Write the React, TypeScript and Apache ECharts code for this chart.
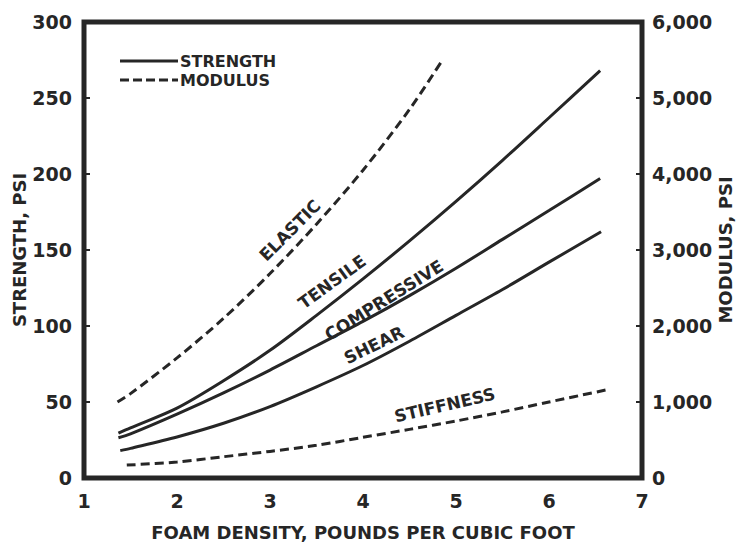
import React, { useEffect, useRef } from "react";
import * as echarts from "echarts";

// ---- Data ----
const densityTicks = [1, 2, 3, 4, 5, 6, 7];
const strengthTicks = [0, 50, 100, 150, 200, 250, 300];
const modulusTickLabels = ["0", "1,000", "2,000", "3,000", "4,000", "5,000", "6,000"];

const tensileDensity = [1.37, 1.5, 2, 2.5, 3, 3.5, 4, 4.5, 5, 5.5, 6, 6.55];
const tensileStrength = [29.5, 33, 46, 64, 84, 107, 131, 156, 182, 209, 237, 268];

const compressiveDensity = [1.37, 1.5, 2, 2.5, 3, 3.5, 4, 4.5, 5, 5.5, 6, 6.55];
const compressiveStrength = [26.5, 29, 42, 56, 71, 87, 103, 120, 138, 157, 176, 197];

const shearDensity = [1.39, 1.5, 2, 2.5, 3, 3.5, 4, 4.5, 5, 5.5, 6, 6.56];
const shearStrength = [18, 19.5, 27, 36, 47, 60, 74, 90, 107, 124, 142, 162];

const elasticDensity = [1.36, 1.5, 2, 2.5, 3, 3.5, 4, 4.5, 4.86];
const elasticModulus = [1000, 1110, 1580, 2100, 2690, 3340, 4050, 4850, 5510];

const stiffnessDensity = [1.46, 2, 2.5, 3, 3.5, 4, 4.5, 5, 5.5, 6, 6.62];
const stiffnessModulus = [170, 210, 280, 350, 430, 535, 640, 750, 870, 1000, 1160];

// curve labels: [text, density, strength-axis value, angle in degrees]
const curveLabels: [string, number, number, number][] = [
  ["ELASTIC", 3.215, 163, 45],
  ["TENSILE", 3.667, 129, 36],
  ["COMPRESSIVE", 4.226, 117, 32],
  ["SHEAR", 4.118, 87.5, 26],
  ["STIFFNESS", 4.88, 48, 13],
];

const INK = "#262626";
const FONT = "DejaVu Sans";

const zip = (xs: number[], ys: number[]) => xs.map((x, i) => [x, ys[i]]);

export default function App() {
  const ref = useRef<HTMLDivElement>(null);
  useEffect(() => {
    if (!ref.current) return;
    const chart = echarts.init(ref.current, null, { renderer: "svg" });
    const solid = { color: INK, width: 3, type: "solid" as const };
    const dashed = { color: INK, width: 3, type: [9, 5] as any };
    const lineSeries = (name: string, data: number[][], yAxisIndex: number, ls: any) => ({
      name,
      type: "line",
      data,
      yAxisIndex,
      smooth: 0.3,
      showSymbol: false,
      symbol: "none",
      lineStyle: ls,
      itemStyle: { color: INK },
      z: 3,
    });
    chart.setOption({
      animation: false,
      backgroundColor: "#ffffff",
      textStyle: { fontFamily: FONT, color: INK },
      grid: {
        left: 84,
        right: 99,
        top: 22,
        bottom: 66,
        containLabel: false,
        outerBoundsMode: "none",
        show: true,
        borderColor: INK,
        borderWidth: 5,
        backgroundColor: "transparent",
      },
      xAxis: {
        type: "value",
        min: densityTicks[0],
        max: densityTicks[densityTicks.length - 1],
        interval: 1,
        name: "FOAM DENSITY, POUNDS PER CUBIC FOOT",
        nameLocation: "middle",
        nameGap: 45,
        nameTextStyle: { fontFamily: FONT, fontWeight: "bold", fontSize: 18, color: INK },
        axisLine: { show: false },
        axisTick: { show: false },
        splitLine: { show: false },
        axisLabel: { fontFamily: FONT, fontWeight: "bold", fontSize: 19, color: INK, margin: 13 },
      },
      yAxis: [
        {
          type: "value",
          min: strengthTicks[0],
          max: strengthTicks[strengthTicks.length - 1],
          interval: 50,
          name: "STRENGTH, PSI",
          nameLocation: "middle",
          nameGap: 56,
          nameMoveOverlap: false,
          nameRotate: 90,
          nameTextStyle: { fontFamily: FONT, fontWeight: "bold", fontSize: 18, color: INK },
          axisLine: { show: false },
          axisTick: { show: true, inside: true, length: 6, lineStyle: { color: INK, width: 2 } },
          splitLine: { show: false },
          axisLabel: { fontFamily: FONT, fontWeight: "bold", fontSize: 19, color: INK, margin: 12 },
        },
        {
          type: "value",
          position: "right",
          min: 0,
          max: 6000,
          interval: 1000,
          name: "MODULUS, PSI",
          nameLocation: "middle",
          nameGap: 74,
          nameMoveOverlap: false,
          nameRotate: 90,
          nameTextStyle: { fontFamily: FONT, fontWeight: "bold", fontSize: 18, color: INK },
          axisLine: { show: false },
          axisTick: { show: true, inside: true, length: 6, lineStyle: { color: INK, width: 2 } },
          splitLine: { show: false },
          axisLabel: {
            fontFamily: FONT,
            fontWeight: "bold",
            fontSize: 19,
            color: INK,
            margin: 10,
            formatter: (v: number) => modulusTickLabels[Math.round(v / 1000)] ?? String(v),
          },
        },
      ],
      series: [
        lineSeries("Tensile", zip(tensileDensity, tensileStrength), 0, solid),
        lineSeries("Compressive", zip(compressiveDensity, compressiveStrength), 0, solid),
        lineSeries("Shear", zip(shearDensity, shearStrength), 0, solid),
        lineSeries("Elastic", zip(elasticDensity, elasticModulus), 1, dashed),
        lineSeries("Stiffness", zip(stiffnessDensity, stiffnessModulus), 1, dashed),
      ],
    });

    const labelEls = curveLabels.map(([text, d, v, ang]) => {
      const p = chart.convertToPixel({ xAxisIndex: 0, yAxisIndex: 0 }, [d, v]) as number[];
      return {
        type: "text",
        x: p[0],
        y: p[1],
        rotation: (ang * Math.PI) / 180,
        style: {
          text,
          fill: INK,
          font: `bold 17px "${FONT}"`,
          align: "center",
          verticalAlign: "middle",
        },
        z: 10,
      };
    });

    chart.setOption({
      graphic: [
        { type: "line", shape: { x1: 120, y1: 61, x2: 178, y2: 61 }, style: { stroke: INK, lineWidth: 3 } },
        {
          type: "line",
          shape: { x1: 120, y1: 80, x2: 178, y2: 80 },
          style: { stroke: INK, lineWidth: 3, lineDash: [9, 4] },
        },
        {
          type: "text",
          x: 180,
          y: 61,
          style: { text: "STRENGTH", fill: INK, font: `bold 16px "${FONT}"`, align: "left", verticalAlign: "middle" },
        },
        {
          type: "text",
          x: 180,
          y: 80,
          style: { text: "MODULUS", fill: INK, font: `bold 16px "${FONT}"`, align: "left", verticalAlign: "middle" },
        },
        ...labelEls,
      ],
    });

    return () => chart.dispose();
  }, []);
  return (
    <div
      ref={ref}
      style={{ position: "fixed", left: 0, top: 0, width: 741, height: 544, background: "#fff" }}
    />
  );
}
